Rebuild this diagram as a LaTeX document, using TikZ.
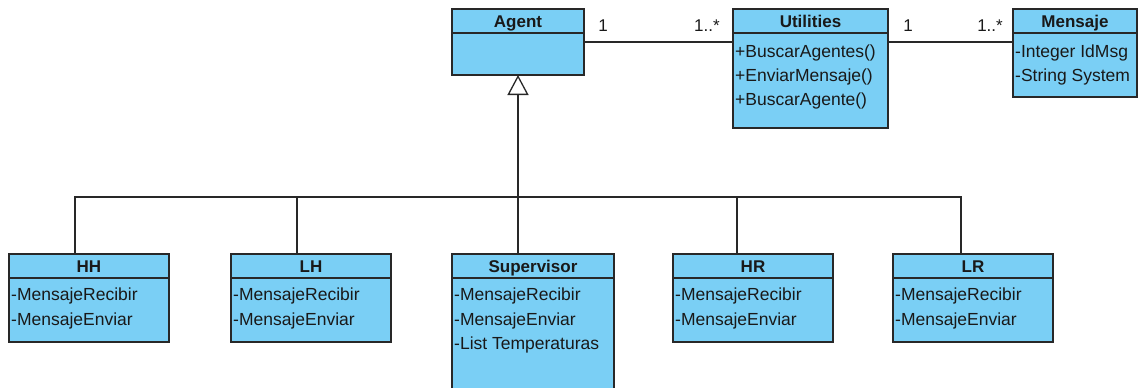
\documentclass[tikz,border=0pt]{standalone}
\usepackage{fontspec}
\setmainfont{Liberation Sans}
\usetikzlibrary{arrows.meta}
\definecolor{umlblue}{RGB}{122,207,245}
\definecolor{umlline}{RGB}{40,40,40}
\tikzset{
  cls/.style={draw=umlline, fill=umlblue, line width=1.3pt, anchor=north west, inner sep=0pt, outer sep=0pt},
  sep/.style={draw=umlline, line width=1.3pt},
  ttl/.style={anchor=base, inner sep=0pt, font=\bfseries\fontsize{17}{20}\selectfont, text=black!90},
  attr/.style={anchor=west, inner sep=0pt, font=\fontsize{17.5}{20}\selectfont, text=black!90},
  mult/.style={inner sep=0pt, font=\fontsize{17}{20}\selectfont, text=black!90},
  conn/.style={draw=umlline, line width=1.3pt},
  gen/.style={conn, -{Triangle[open, length=20pt, width=21pt, line width=1.3pt]}}
}
\begin{document}
\begin{tikzpicture}[x=1pt,y=-1pt]
\useasboundingbox (0,0) rectangle (1138,388);
\clip (0,0) rectangle (1138,388);
% Agent
\node[cls, minimum width=132pt, minimum height=66pt] (agent) at (452,9) {};
\draw[sep] (452,33) -- (584,33);
\node[ttl] (agentT) at (518,27.5) {Agent};
% Utilities
\node[cls, minimum width=155pt, minimum height=119pt] (util) at (733,9) {};
\draw[sep] (733,33) -- (888,33);
\node[ttl] (utilT) at (810.5,27.5) {Utilities};
\node[attr] (u1) at (735,52.5) {+BuscarAgentes()};
\node[attr] (u2) at (735,76.5) {+EnviarMensaje()};
\node[attr] (u3) at (735,100.5) {+BuscarAgente()};
% Mensaje
\node[cls, minimum width=124pt, minimum height=88pt] (msg) at (1013,9) {};
\draw[sep] (1013,33) -- (1137,33);
\node[ttl] (msgT) at (1075,27.5) {Mensaje};
\node[attr] (m1) at (1015,52.5) {-Integer IdMsg};
\node[attr] (m2) at (1015,76.5) {-String System};
% associations
\draw[conn] (agent.east |- 0,42) -- (util.west |- 0,42);
\node[mult] (a1) at (603,26) {1};
\node[mult] (a2) at (707,26) {1..*};
\draw[conn] (util.east |- 0,42) -- (msg.west |- 0,42);
\node[mult] (b1) at (908,26) {1};
\node[mult] (b2) at (990,26) {1..*};
% bottom classes
\node[cls, minimum width=160pt, minimum height=88pt] (hh) at (9,254) {};
\draw[sep] (9,278) -- (169,278);
\node[ttl] (hhT) at (89,272.5) {HH};
\node[attr] (hh1) at (11,295.5) {-MensajeRecibir};
\node[attr] (hh2) at (11,320.5) {-MensajeEnviar};

\node[cls, minimum width=160pt, minimum height=88pt] (lh) at (231,254) {};
\draw[sep] (231,278) -- (391,278);
\node[ttl] (lhT) at (311,272.5) {LH};
\node[attr] (lh1) at (233,295.5) {-MensajeRecibir};
\node[attr] (lh2) at (233,320.5) {-MensajeEnviar};

\node[cls, minimum width=162pt, minimum height=150pt] (sup) at (452,254) {};
\draw[sep] (452,278) -- (614,278);
\node[ttl] (supT) at (533,272.5) {Supervisor};
\node[attr] (s1) at (454,295.5) {-MensajeRecibir};
\node[attr] (s2) at (454,320.5) {-MensajeEnviar};
\node[attr] (s3) at (454,344.5) {-List Temperaturas};

\node[cls, minimum width=160pt, minimum height=88pt] (hr) at (673,254) {};
\draw[sep] (673,278) -- (833,278);
\node[ttl] (hrT) at (753,272.5) {HR};
\node[attr] (hr1) at (675,295.5) {-MensajeRecibir};
\node[attr] (hr2) at (675,320.5) {-MensajeEnviar};

\node[cls, minimum width=160pt, minimum height=88pt] (lr) at (893,254) {};
\draw[sep] (893,278) -- (1053,278);
\node[ttl] (lrT) at (973,272.5) {LR};
\node[attr] (lr1) at (895,295.5) {-MensajeRecibir};
\node[attr] (lr2) at (895,320.5) {-MensajeEnviar};
% generalization
\coordinate (bus) at (518,197);
\draw[gen] (bus) -- (agent.south -| bus);
\draw[conn] (hh.north -| 75,0) |- (bus);
\draw[conn] (lh.north -| 297,0) |- (bus);
\draw[conn] (sup.north -| 518,0) -- (bus);
\draw[conn] (hr.north -| 737,0) |- (bus);
\draw[conn] (lr.north -| 961,0) |- (bus);
\end{tikzpicture}
\end{document}
